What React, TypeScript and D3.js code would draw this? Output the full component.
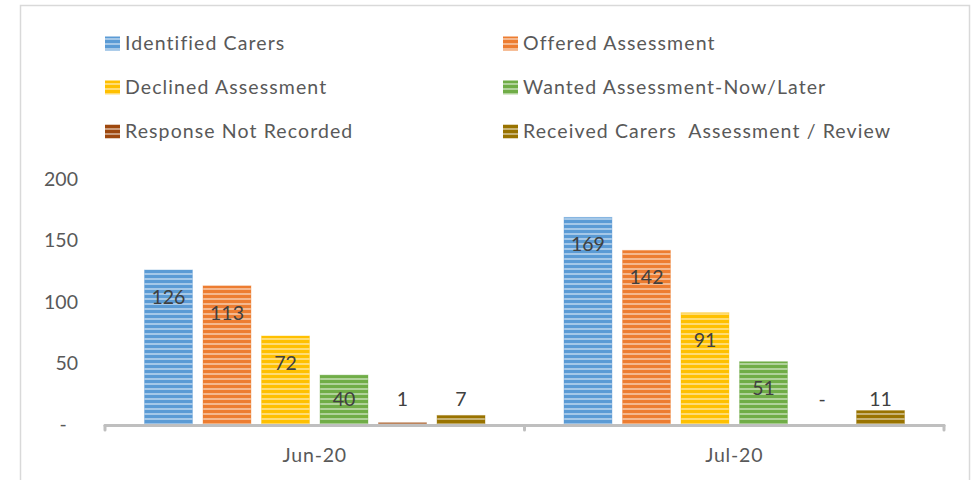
import React from "react";
import * as d3 from "d3";

const categories = ["Jun-20", "Jul-20"];
const seriesNames = [
  "Identified Carers",
  "Offered Assessment",
  "Declined Assessment",
  "Wanted Assessment-Now/Later",
  "Response Not Recorded",
  "Received Carers  Assessment / Review",
];
const seriesColors = ["#5b9bd5", "#ed7d31", "#ffc000", "#70ad47", "#9e480e", "#997300"];
const jun20Values = [126, 113, 72, 40, 1, 7];
const jul20Values = [169, 142, 91, 51, 0, 11];
const valuesByCategory = [jun20Values, jul20Values];
const yTicks = [0, 50, 100, 150, 200];
const yTickLabels = ["-", "50", "100", "150", "200"];

const W = 976;
const H = 480;
const FONT = "Lato, 'Noto Sans', sans-serif";

export default function App() {
  const x = d3.scaleBand<string>().domain(categories).range([105, 944]).padding(0);
  const xi = d3
    .scaleBand<string>()
    .domain(seriesNames)
    .range([0, x.bandwidth()])
    .paddingInner(0.18)
    .paddingOuter(0.675);
  const y = d3.scaleLinear().domain([0, 200]).range([424, 179.5]);

  const legendCols = [105, 503];
  const legendRows = [43.5, 87.5, 131.5];

  return (
    <svg
      width={W}
      height={H}
      style={{ position: "absolute", left: 0, top: 0, background: "#fff" }}
      fontFamily={FONT}
    >
      <defs>
        {seriesColors.map((c, i) => (
          <pattern
            key={i}
            id={`stripe${i}`}
            patternUnits="userSpaceOnUse"
            width={8}
            height={5}
          >
            <rect width={8} height={5} fill={c} />
            <rect y={3} width={8} height={2} fill="#fff" opacity={0.45} />
          </pattern>
        ))}
      </defs>
      <rect x={20.5} y={5.5} width={949} height={H} fill="#fff" stroke="#d9d9d9" strokeWidth={1.5} />

      {/* Legend */}
      {seriesNames.map((s, i) => {
        const cx = legendCols[i % 2];
        const cy = legendRows[Math.floor(i / 2)];
        return (
          <g key={s}>
            <rect x={cx} y={cy - 7} width={15} height={14} fill={`url(#stripe${i})`} />
            <text
              x={cx + 20}
              y={cy}
              dy="0.35em"
              fontSize={19.5}
              letterSpacing={1.1}
              fill="#595959"
              style={{ whiteSpace: "pre" }}
            >
              {s}
            </text>
          </g>
        );
      })}

      {/* Y tick labels */}
      {yTicks.map((t, i) => (
        <text
          key={t}
          x={t === 0 ? 63 : 78}
          y={y(t)}
          dy="0.35em"
          textAnchor={t === 0 ? "middle" : "end"}
          fontSize={19.5}
          fill="#595959"
        >
          {yTickLabels[i]}
        </text>
      ))}

      {/* Bars */}
      {categories.map((cat, ci) =>
        valuesByCategory[ci].map((v, si) => {
          const bx = (x(cat) as number) + (xi(seriesNames[si]) as number);
          const bw = xi.bandwidth();
          const top = y(v);
          const labelY = Math.min(top + 27, y(0) - 25);
          return (
            <g key={`${cat}-${si}`}>
              {v > 0 && (
                <rect
                  x={bx}
                  y={top}
                  width={bw}
                  height={y(0) - top}
                  fill={`url(#stripe${si})`}
                  stroke={seriesColors[si]}
                  strokeOpacity={0.35}
                  strokeWidth={1}
                />
              )}
              <text
                x={bx + bw / 2}
                y={labelY}
                dy="0.35em"
                textAnchor="middle"
                fontSize={19.5}
                fill="#404040"
              >
                {v === 0 ? "-" : v}
              </text>
            </g>
          );
        })
      )}

      {/* X axis */}
      <g stroke="#bfbfbf" strokeWidth={3} strokeLinecap="round" fill="none">
        <line x1={105} x2={944} y1={425.5} y2={425.5} />
        {[...categories.map((c) => x(c) as number), 944].map((tx, i) => (
          <line key={i} x1={tx} x2={tx} y1={425.5} y2={430} />
        ))}
      </g>
      {categories.map((c) => (
        <text
          key={c}
          x={(x(c) as number) + x.bandwidth() / 2}
          y={455}
          dy="0.35em"
          textAnchor="middle"
          fontSize={19.5}
          letterSpacing={0.8}
          fill="#595959"
        >
          {c}
        </text>
      ))}
    </svg>
  );
}
